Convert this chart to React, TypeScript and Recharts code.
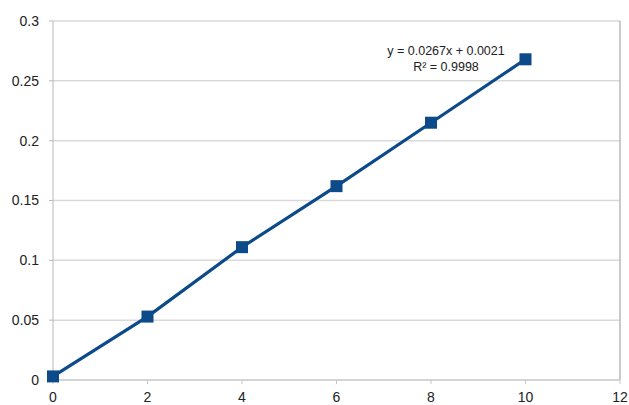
import React from "react";
import { ComposedChart, Line, XAxis, YAxis, CartesianGrid, ReferenceLine } from "recharts";

const xValues = [0, 2, 4, 6, 8, 10];
const yValues = [0.003, 0.053, 0.111, 0.162, 0.215, 0.268];
const xTicks = [0, 2, 4, 6, 8, 10, 12];
const yTicks = [0, 0.05, 0.1, 0.15, 0.2, 0.25, 0.3];
const trendLabel = ["y = 0.0267x + 0.0021", "R² = 0.9998"];

const data = xValues.map((x, i) => ({ x, y: yValues[i] }));

const SquareDot = (props: any) => {
  const { cx, cy } = props;
  if (cx == null || cy == null) return null;
  return <rect x={cx - 6} y={cy - 6} width={12} height={12} fill="#0c4a8a" />;
};

export default function App() {
  return (
    <div style={{ position: "absolute", left: 0, top: 0, width: 629, height: 405, background: "#fff" }}>
      <ComposedChart
        width={629}
        height={405}
        data={data}
        margin={{ top: 21, right: 9, left: 0, bottom: 0 }}
      >
        <CartesianGrid horizontal vertical={false} stroke="#d9d9d9" strokeWidth={1.5} />
        <XAxis
          dataKey="x"
          type="number"
          domain={[0, 12]}
          ticks={xTicks}
          height={25}
          stroke="#c8c8c8"
          tickSize={4}
          tickMargin={8}
          tick={{ fill: "#222", fontSize: 14, fontFamily: "Liberation Sans, Arial, sans-serif" }}
        />
        <YAxis
          type="number"
          domain={[0, 0.3]}
          ticks={yTicks}
          width={53}
          stroke="#b8b8b8"
          tickSize={4}
          tickMargin={10}
          tick={{ fill: "#222", fontSize: 14, fontFamily: "Liberation Sans, Arial, sans-serif" }}
        />
        <ReferenceLine x={12} stroke="#b8b8b8" strokeWidth={1.5} />
        <Line
          dataKey="y"
          stroke="#0c4a8a"
          strokeWidth={3.2}
          dot={<SquareDot />}
          activeDot={false}
          isAnimationActive={false}
        />
      </ComposedChart>
      <div
        style={{
          position: "absolute",
          left: 346,
          top: 43,
          width: 200,
          textAlign: "center",
          fontFamily: "Liberation Sans, Arial, sans-serif",
          fontSize: 12.5,
          lineHeight: "16px",
          color: "#222",
        }}
      >
        <div>{trendLabel[0]}</div>
        <div>{trendLabel[1]}</div>
      </div>
    </div>
  );
}
